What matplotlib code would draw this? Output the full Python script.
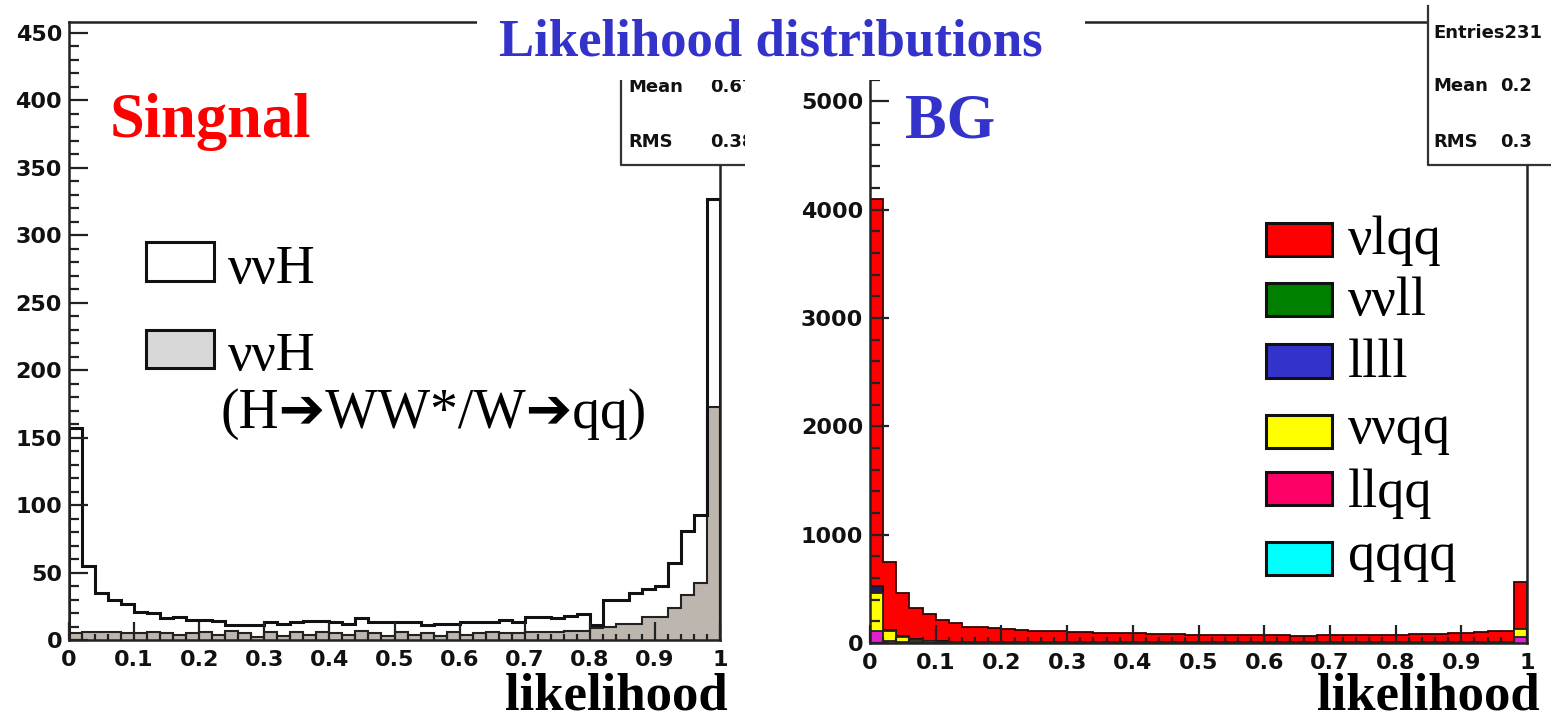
import numpy as np
import matplotlib
matplotlib.use("Agg")
import matplotlib.pyplot as plt
from matplotlib.patches import Rectangle
from matplotlib.lines import Line2D
from matplotlib.ticker import MultipleLocator, FixedLocator, FixedFormatter

# ---------------- data ----------------
n_bins = 50
x_lo, x_hi = 0.0, 1.0

# Signal: ννH total (white) and H->WW*/W->qq subset (gray)
sig_all = [157, 55, 35, 30, 27, 21, 20, 16, 17, 15,
           15, 14, 11, 11, 11, 13, 12, 13, 14, 14,
           13, 12, 16, 13, 13, 13, 13, 11, 12, 12,
           13, 13, 13, 15, 13, 17, 17, 16, 18, 19,
           11, 30, 30, 35, 38, 40, 57, 81, 93, 327]
sig_ww = [5, 6, 6, 6, 5, 5, 6, 5, 4, 5,
          6, 4, 7, 5, 2, 6, 3, 6, 4, 6,
          5, 4, 7, 5, 3, 6, 4, 5, 3, 6,
          4, 5, 6, 5, 5, 6, 6, 6, 7, 7,
          9, 10, 12, 12, 17, 17, 24, 33, 42, 173]

# Background components (stacked, bottom -> top)
bg_llqq = [114, 20, 10, 6, 4, 3, 3, 2, 2, 2,
           2, 2, 2, 2, 2, 2, 2, 2, 2, 2,
           2, 2, 2, 2, 2, 2, 2, 2, 2, 2,
           2, 2, 2, 2, 2, 2, 2, 2, 2, 2,
           2, 2, 2, 2, 2, 2, 2, 2, 2, 60]
bg_vvqq = [345, 95, 50, 25, 15, 10, 8, 6, 5, 5,
           4, 4, 4, 4, 4, 4, 4, 4, 4, 4,
           4, 4, 4, 4, 4, 4, 4, 4, 4, 4,
           4, 4, 4, 4, 4, 4, 4, 4, 4, 4,
           4, 4, 4, 4, 4, 4, 5, 5, 6, 65]
bg_llll = [67, 5, 3, 2, 2, 2, 1, 1, 1, 1,
           1, 1, 1, 1, 1, 1, 1, 1, 1, 1,
           1, 1, 1, 1, 1, 1, 1, 1, 1, 1,
           1, 1, 1, 1, 1, 1, 1, 1, 1, 1,
           1, 1, 1, 1, 1, 1, 1, 1, 1, 5]
bg_vlqq = [3574, 630, 397, 287, 247, 197, 170, 142, 137, 132,
           118, 113, 108, 105, 103, 98, 93, 89, 87, 83,
           81, 78, 75, 73, 71, 68, 67, 65, 65, 63,
           63, 63, 61, 61, 63, 65, 65, 67, 68, 69,
           71, 73, 75, 78, 83, 85, 92, 102, 106, 430]

sig_labels = ["ννH", "ννH"]
sig_sub_label = "(H➔WW*/W➔qq)"
bg_labels = ["νlqq", "ννll", "llll", "ννqq", "llqq", "qqqq"]
bg_legend_colors = ["#ff0000", "#007f00", "#3333cc", "#ffff00", "#ff0066", "#00ffff"]

left_yticks = [0, 50, 100, 150, 200, 250, 300, 350, 400, 450]
right_yticks = [0, 1000, 2000, 3000, 4000, 5000]
xticks = [0, 0.1, 0.2, 0.3, 0.4, 0.5, 0.6, 0.7, 0.8, 0.9, 1]
xtick_labels = ["0", "0.1", "0.2", "0.3", "0.4", "0.5", "0.6", "0.7", "0.8", "0.9", "1"]

# ---------------- figure ----------------
W, H = 1551, 721
fig = plt.figure(figsize=(W / 100, H / 100), dpi=100)
fig.patch.set_facecolor("white")


def fx(x):
    return x / W


def fy(y):
    return 1 - y / H


def axes_px(x0, y0, x1, y1):
    return fig.add_axes([fx(x0), fy(y1), fx(x1) - fx(x0), fy(y0) - fy(y1)])


TICKFONT = ["DejaVu Sans"]
SERIF = ["Liberation Serif", "DejaVu Serif", "DejaVu Sans"]

edges = np.linspace(x_lo, x_hi, n_bins + 1)


def style_axes(ax, ymax, major_y, minor_y, yticks):
    ax.set_xlim(x_lo, x_hi)
    ax.set_ylim(0, ymax)
    ax.xaxis.set_major_locator(FixedLocator(xticks))
    ax.xaxis.set_major_formatter(FixedFormatter(xtick_labels))
    ax.xaxis.set_minor_locator(MultipleLocator(0.02))
    ax.yaxis.set_major_locator(FixedLocator(yticks))
    ax.yaxis.set_minor_locator(MultipleLocator(minor_y))
    ax.tick_params(axis="both", which="both", direction="in", top=False, right=False,
                   colors="#222222", width=1.6)
    ax.tick_params(axis="y", which="major", length=14, pad=5)
    ax.tick_params(axis="y", which="minor", length=7)
    ax.tick_params(axis="x", which="major", length=13, pad=7)
    ax.tick_params(axis="x", which="minor", length=4)
    for lab in ax.get_xticklabels() + ax.get_yticklabels():
        lab.set_fontfamily(TICKFONT)
        lab.set_fontweight("bold")
        lab.set_fontsize(16)
        lab.set_color("#111111")
    for sp in ax.spines.values():
        sp.set_linewidth(1.8)
        sp.set_color("#222222")


# ---- left: signal ----
axL = axes_px(69, 22, 720, 640)
axL.stairs(sig_all, edges, baseline=0, fill=True, facecolor="white", edgecolor="none")
axL.stairs(sig_ww, edges, baseline=0, fill=True, facecolor="#bdb6af", edgecolor="#222222",
           linewidth=1.5)
axL.stairs(sig_all, edges, baseline=0, fill=False, edgecolor="#111111", linewidth=2.2)
style_axes(axL, 458, 50, 10, left_yticks)

# ---- right: background stack ----
axR = axes_px(870, 22, 1527, 643)
stack = [(bg_llqq, "#e020d0", "#222222"),
         (bg_vvqq, "#ffff00", "#222222"),
         (bg_llll, "#1c1c5a", "#111111"),
         (bg_vlqq, "#ff0000", "#3a0000")]
bottom = np.zeros(n_bins)
layers = []
for vals, fc, ec in stack:
    top = bottom + np.asarray(vals, dtype=float)
    layers.append((top.copy(), fc, ec))
    bottom = top
for top, fc, ec in reversed(layers):
    axR.stairs(top, edges, baseline=0, fill=True, facecolor=fc, edgecolor=ec, linewidth=1.3)
style_axes(axR, 5734, 1000, 200, right_yticks)

# ---------------- overlays ----------------
def frect(x0, y0, x1, y1, **kw):
    r = Rectangle((fx(x0), fy(y1)), fx(x1) - fx(x0), fy(y0) - fy(y1),
                  transform=fig.transFigure, **kw)
    fig.add_artist(r)
    return r


def fline(xs, ys, **kw):
    fig.add_artist(Line2D([fx(v) for v in xs], [fy(v) for v in ys],
                          transform=fig.transFigure, **kw))


STAT = dict(family=TICKFONT, weight="bold", fontsize=13, zorder=6, color="#111111")

# stat boxes
frect(621, 40, 760, 165, facecolor="white", edgecolor="none", zorder=5)
fline([621, 621, 760], [40, 165, 165], color="#333333", lw=1.6, zorder=6)
fig.text(fx(628), fy(92), "Mean", **STAT)
fig.text(fx(710), fy(92), "0.67", **STAT)
fig.text(fx(628), fy(147), "RMS", **STAT)
fig.text(fx(710), fy(147), "0.38", **STAT)
# clip the left panel on its right side
frect(745, 30, 796, 172, facecolor="white", edgecolor="none", zorder=7)

frect(1428, 0, 1551, 165, facecolor="white", edgecolor="none", zorder=5)
fline([1428, 1428, 1551], [6, 165, 165], color="#333333", lw=1.6, zorder=6)
fig.text(fx(1433), fy(38), "Entries231", **STAT)
fig.text(fx(1433), fy(91), "Mean", **STAT)
fig.text(fx(1500), fy(91), "0.2", **STAT)
fig.text(fx(1433), fy(147), "RMS", **STAT)
fig.text(fx(1500), fy(147), "0.3", **STAT)

# title box
frect(477, 0, 1085, 80, facecolor="white", edgecolor="none", zorder=8)
fig.text(fx(771), fy(55), "Likelihood distributions", family=SERIF, weight="bold",
         fontsize=38, color="#3333cc", ha="center", va="baseline", zorder=9)

# panel labels
fig.text(fx(110), fy(137), "Singnal", family=SERIF, weight="bold", fontsize=45,
         color="#ff0000", va="baseline", zorder=9)
fig.text(fx(905), fy(137), "BG", family=SERIF, weight="bold", fontsize=45,
         color="#3333cc", va="baseline", zorder=9)

# x labels
fig.text(fx(728), fy(720), "likelihood", family=SERIF, weight="bold", fontsize=38,
         ha="right", va="bottom", zorder=9)
fig.text(fx(1540), fy(720), "likelihood", family=SERIF, weight="bold", fontsize=38,
         ha="right", va="bottom", zorder=9)

# left legend
frect(146, 242, 214, 281, facecolor="white", edgecolor="#111111", lw=2.2, zorder=9)
fig.text(fx(228), fy(283), sig_labels[0], family=SERIF, fontsize=39, va="baseline", zorder=9)
frect(146, 330, 214, 368, facecolor="#d8d8d8", edgecolor="#111111", lw=2.2, zorder=9)
fig.text(fx(228), fy(370), sig_labels[1], family=SERIF, fontsize=39, va="baseline", zorder=9)
fig.text(fx(220), fy(428), sig_sub_label, family=SERIF, fontsize=40, va="baseline", zorder=9)

# right legend
box_y = [(223, 256), (283, 316), (344, 378), (415, 448), (472, 505), (542, 575)]
base_y = [254, 315, 377, 443, 507, 570]
for (y0, y1), by, lab, col in zip(box_y, base_y, bg_labels, bg_legend_colors):
    frect(1266, y0, 1332, y1, facecolor=col, edgecolor="#111111", lw=2.2, zorder=9)
    fig.text(fx(1348), fy(by), lab, family=SERIF, fontsize=39, va="baseline", zorder=9)

fig.savefig("out.png", dpi=100, facecolor="white")
